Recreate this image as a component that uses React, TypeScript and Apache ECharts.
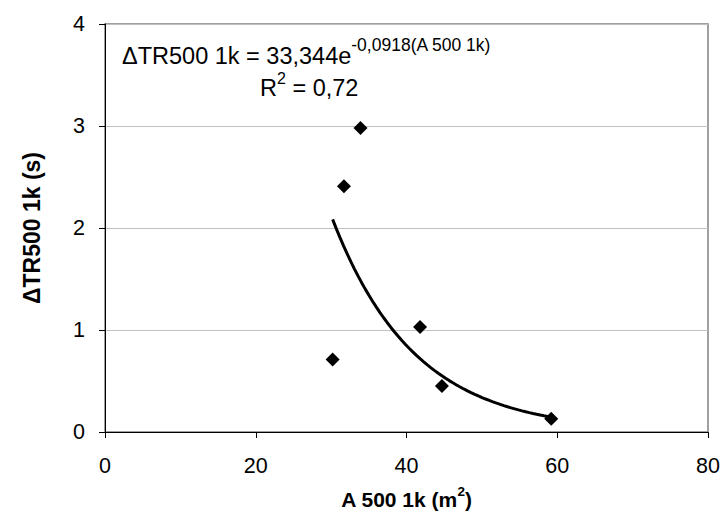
import React, { useEffect, useRef } from "react";
import * as echarts from "echarts";

const xValues = [30.2, 31.7, 33.9, 41.8, 44.7, 59.2];
const yValues = [0.71, 2.41, 2.98, 1.03, 0.45, 0.13];
const trendCoefA = 33.344;
const trendCoefB = -0.0918;
const trendSteps = 60;
const xTickInterval = 20;
const yTickInterval = 1;

const FONT = "'Liberation Sans', Arial, sans-serif";

export default function App() {
  const ref = useRef<HTMLDivElement>(null);
  useEffect(() => {
    document.body.style.margin = "0";
    const chart = echarts.init(ref.current!, undefined, { renderer: "svg" });
    const points = xValues.map((x, i) => [x, yValues[i]]);
    const xmin = Math.min(...xValues);
    const xmax = Math.max(...xValues);
    const trend: number[][] = [];
    for (let i = 0; i <= trendSteps; i++) {
      const x = xmin + ((xmax - xmin) * i) / trendSteps;
      trend.push([x, trendCoefA * Math.exp(trendCoefB * x)]);
    }
    chart.setOption({
      animation: false,
      backgroundColor: "#ffffff",
      textStyle: { fontFamily: FONT },
      grid: {
        left: 105,
        top: 24,
        right: 14,
        bottom: 83,
        containLabel: false,
        outerBoundsMode: "none",
        show: true,
        borderColor: "#808080",
        borderWidth: 1.5,
      },
      xAxis: {
        type: "value",
        min: 0,
        max: 80,
        interval: xTickInterval,
        axisLine: { show: true, lineStyle: { color: "#000", width: 1 } },
        axisTick: { show: true, length: 6, lineStyle: { color: "#000" } },
        axisLabel: { color: "#000", fontSize: 21.5, margin: 23, fontFamily: FONT },
        splitLine: { show: false },
        name: "{b|A 500 1k (m}{s|2}{b|)}",
        nameLocation: "middle",
        nameGap: 52,
        nameTextStyle: {
          rich: {
            b: { fontSize: 21, fontWeight: "bold", color: "#000", fontFamily: FONT, lineHeight: 30 },
            s: { fontSize: 13.5, fontWeight: "bold", color: "#000", fontFamily: FONT, lineHeight: 13, verticalAlign: "top" },
          },
        },
      },
      yAxis: {
        type: "value",
        min: 0,
        max: 4,
        interval: yTickInterval,
        axisLine: { show: true, lineStyle: { color: "#000", width: 1 } },
        axisTick: { show: true, length: 6, lineStyle: { color: "#000" } },
        axisLabel: { color: "#000", fontSize: 21.5, margin: 20, fontFamily: FONT },
        splitLine: { show: true, lineStyle: { color: "#c0c0c0", width: 1 } },
        name: "ΔTR500 1k (s)",
        nameLocation: "middle",
        nameGap: 62,
        nameTextStyle: { fontSize: 23, fontWeight: "bold", color: "#000", fontFamily: FONT },
      },
      graphic: [
        {
          type: "text",
          left: 122,
          top: 36,
          style: {
            text: "{m|ΔTR500 1k = 33,344e}{s|-0,0918(A 500 1k)}",
            rich: {
              m: { fontSize: 23.5, color: "#000", fontFamily: FONT, lineHeight: 40 },
              s: { fontSize: 17.5, color: "#000", fontFamily: FONT, lineHeight: 17, verticalAlign: "top" },
            },
          },
        },
        {
          type: "text",
          left: 260,
          top: 70,
          style: {
            text: "{m|R}{s|2}{m| = 0,72}",
            rich: {
              m: { fontSize: 23.5, color: "#000", fontFamily: FONT, lineHeight: 36 },
              s: { fontSize: 16, color: "#000", fontFamily: FONT, lineHeight: 16, verticalAlign: "top" },
            },
          },
        },
      ],
      series: [
        {
          type: "scatter",
          data: points,
          symbol: "diamond",
          symbolSize: 14,
          itemStyle: { color: "#000", opacity: 1 },
          z: 3,
        },
        {
          type: "line",
          data: trend,
          showSymbol: false,
          symbol: "none",
          lineStyle: { color: "#000", width: 3, opacity: 1 },
          z: 2,
        },
      ],
    });
    return () => chart.dispose();
  }, []);
  return <div ref={ref} style={{ width: 722, height: 515 }} />;
}
